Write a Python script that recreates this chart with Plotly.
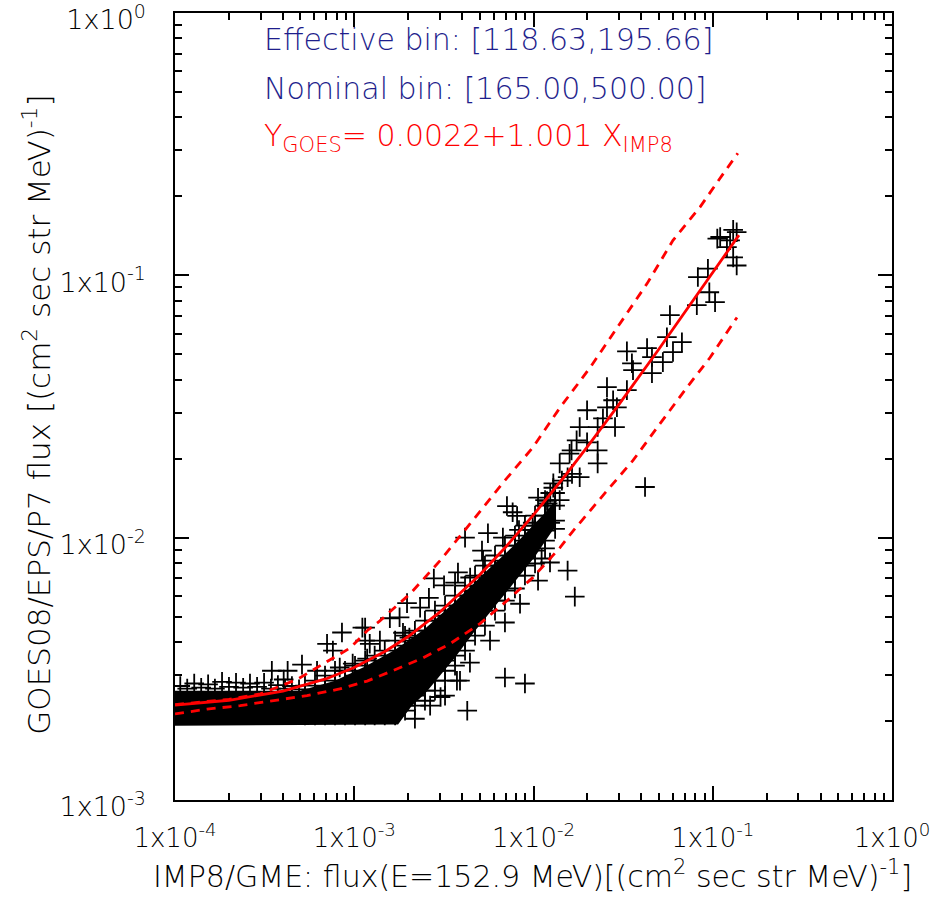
import plotly.graph_objects as go

# ---------------- data ----------------
# individual "+" points: IMP8 flux (x) and GOES flux (y)
imp8_flux = [
    # upper right cluster
    0.110, 0.130, 0.125, 0.136, 0.120, 0.130, 0.136, 0.106, 0.094, 0.0826, 0.0957, 0.103, 0.0815,
    0.0577, 0.0555, 0.0673, 0.060, 0.0527, 0.0458, 0.0430, 0.0354, 0.0332, 0.0359, 0.0458, 0.0332,
    0.0257, 0.0278, 0.0257, 0.0292, 0.0199, 0.0244, 0.0285, 0.0228, 0.0181, 0.0174, 0.0199, 0.0228,
    0.0163, 0.0140, 0.0159, 0.0164, 0.0181, 0.0155, 0.0228, 0.0419, 0.0129, 0.0124, 0.0120, 0.0106,
    0.0140, 0.00711, 0.0081, 0.0099, 0.0083, 0.0124,
    # middle, above the dense band
    0.00765, 0.00557, 0.00415, 0.00675, 0.00516, 0.00523, 0.00379, 0.00443, 0.00365, 0.00317,
    0.00278, 0.00261, 0.00233, 0.00197, 0.00179, 0.00158, 0.00115, 0.00139, 0.00187, 0.00203,
    0.00122, 0.0111, 0.0099, 0.0116, 0.0129, 0.0144, 0.0119,
    # outliers below
    0.00693, 0.00896, 0.00374, 0.00427, 0.00303, 0.0155, 0.0170,
    # ragged lower edge of the dense band
    2.18e-3, 2.65e-3, 3.21e-3, 3.89e-3, 4.42e-3, 5.72e-3, 6.93e-3, 8.41e-3, 1.06e-2, 1.236e-2,
    # above the low band
    8.54e-4, 1.11e-3, 1.15e-3, 7.05e-4, 7.6e-4, 5.11e-4, 3.47e-4, 4.25e-4, 4.04e-4, 9.8e-4,
    8.3e-4, 6.2e-4, 1.18e-3,
    # top of the low-flux band
    1.07e-4, 1.17e-4, 1.28e-4, 1.40e-4, 1.53e-4, 1.67e-4, 1.83e-4, 2.00e-4, 2.19e-4, 2.40e-4,
    2.62e-4, 2.87e-4, 3.14e-4, 3.43e-4, 3.75e-4, 4.11e-4, 4.49e-4, 4.92e-4,
    # the dense band, column by column
    5.31e-4, 5.31e-4, 5.31e-4, 5.31e-4,
    6.04e-4, 6.04e-4, 6.04e-4, 6.04e-4, 6.04e-4,
    6.87e-4, 6.87e-4, 6.87e-4, 6.87e-4, 6.87e-4,
    7.81e-4, 7.81e-4, 7.81e-4, 7.81e-4, 7.81e-4, 7.81e-4,
    8.88e-4, 8.88e-4, 8.88e-4, 8.88e-4, 8.88e-4,
    1.01e-3, 1.01e-3, 1.01e-3, 1.01e-3, 1.01e-3, 1.01e-3,
    1.15e-3, 1.15e-3, 1.15e-3, 1.15e-3, 1.15e-3, 1.15e-3, 1.15e-3,
    1.30e-3, 1.30e-3, 1.30e-3, 1.30e-3, 1.30e-3, 1.30e-3,
    1.48e-3, 1.48e-3, 1.48e-3, 1.48e-3, 1.48e-3, 1.48e-3, 1.48e-3,
    1.69e-3, 1.69e-3, 1.69e-3, 1.69e-3, 1.69e-3, 1.69e-3, 1.69e-3,
    1.92e-3, 1.92e-3, 1.92e-3, 1.92e-3, 1.92e-3, 1.92e-3, 1.92e-3, 1.92e-3,
    2.18e-3, 2.18e-3, 2.18e-3, 2.18e-3, 2.18e-3, 2.18e-3, 2.18e-3, 2.18e-3,
    2.48e-3, 2.48e-3, 2.48e-3, 2.48e-3, 2.48e-3, 2.48e-3, 2.48e-3, 2.48e-3,
    2.82e-3, 2.82e-3, 2.82e-3, 2.82e-3, 2.82e-3, 2.82e-3, 2.82e-3, 2.82e-3,
    3.21e-3, 3.21e-3, 3.21e-3, 3.21e-3, 3.21e-3, 3.21e-3, 3.21e-3, 3.21e-3,
    3.65e-3, 3.65e-3, 3.65e-3, 3.65e-3, 3.65e-3, 3.65e-3, 3.65e-3,
    4.15e-3, 4.15e-3, 4.15e-3, 4.15e-3, 4.15e-3, 4.15e-3, 4.15e-3,
    4.72e-3, 4.72e-3, 4.72e-3, 4.72e-3, 4.72e-3, 4.72e-3,
    5.36e-3, 5.36e-3, 5.36e-3, 5.36e-3, 5.36e-3, 5.36e-3,
    6.10e-3, 6.10e-3, 6.10e-3, 6.10e-3, 6.10e-3, 6.10e-3,
    6.93e-3, 6.93e-3, 6.93e-3, 6.93e-3, 6.93e-3, 6.93e-3,
    7.88e-3, 7.88e-3, 7.88e-3, 7.88e-3, 7.88e-3,
    8.96e-3, 8.96e-3, 8.96e-3, 8.96e-3, 8.96e-3,
    1.02e-2, 1.02e-2, 1.02e-2, 1.02e-2, 1.02e-2,
    1.16e-2, 1.16e-2, 1.16e-2, 1.16e-2, 1.16e-2,
    1.32e-2, 1.32e-2, 1.32e-2, 1.32e-2,
]
goes_flux = [
    0.140, 0.149, 0.136, 0.146, 0.128, 0.117, 0.109, 0.138, 0.106, 0.0985, 0.0862, 0.0790, 0.0770,
    0.0705, 0.0581, 0.0556, 0.051, 0.0467, 0.0488, 0.0528, 0.0462, 0.0513, 0.0435, 0.0424, 0.0365,
    0.0375, 0.0334, 0.0314, 0.0314, 0.0306, 0.0285, 0.0264, 0.0264, 0.0264, 0.0235, 0.0231, 0.0215,
    0.0215, 0.0192, 0.0209, 0.0175, 0.0170, 0.0170, 0.0192, 0.0156, 0.0161, 0.0148, 0.0135, 0.0142,
    0.0139, 0.0132, 0.0121, 0.0114, 0.0107, 0.0114,
    0.0125, 0.0104, 0.0100, 0.0100, 0.00893, 0.00818, 0.00737, 0.00705, 0.00674, 0.00658,
    0.00699, 0.00590, 0.00541, 0.00563, 0.00497, 0.00493, 0.00454, 0.00405, 0.00434, 0.00416,
    0.00394, 0.00833, 0.0107, 0.0139, 0.0155, 0.0165, 0.0138,
    0.00293, 0.00278, 0.00285, 0.00219, 0.00247, 0.00749, 0.00596,
    2.04e-3, 2.29e-3, 2.50e-3, 2.85e-3, 3.34e-3, 4.05e-3, 4.75e-3, 5.60e-3, 6.86e-3, 8.04e-3,
    0.00435, 0.00454, 0.00405, 0.00394, 0.00371, 0.00328, 0.00311, 0.00311, 0.00288, 0.00331,
    0.00320, 0.00311, 0.00346,
    2.72e-3, 2.66e-3, 2.78e-3, 2.68e-3, 2.76e-3, 2.66e-3, 2.82e-3, 2.70e-3, 2.80e-3, 2.68e-3,
    2.78e-3, 2.70e-3, 2.80e-3, 2.66e-3, 2.74e-3, 2.66e-3, 2.72e-3, 2.64e-3,
    2.73e-3, 2.50e-3, 2.29e-3, 2.10e-3,
    2.85e-3, 2.61e-3, 2.39e-3, 2.19e-3, 2.10e-3,
    2.98e-3, 2.73e-3, 2.50e-3, 2.29e-3, 2.10e-3,
    3.11e-3, 2.85e-3, 2.61e-3, 2.39e-3, 2.19e-3, 2.10e-3,
    3.11e-3, 2.85e-3, 2.50e-3, 2.29e-3, 2.10e-3,
    3.25e-3, 2.98e-3, 2.73e-3, 2.50e-3, 2.29e-3, 2.10e-3,
    3.40e-3, 3.11e-3, 2.85e-3, 2.61e-3, 2.39e-3, 2.19e-3, 2.10e-3,
    3.55e-3, 3.25e-3, 2.98e-3, 2.61e-3, 2.39e-3, 2.10e-3,
    3.71e-3, 3.40e-3, 3.11e-3, 2.73e-3, 2.50e-3, 2.29e-3, 2.10e-3,
    4.05e-3, 3.55e-3, 3.25e-3, 2.98e-3, 2.61e-3, 2.39e-3, 2.10e-3,
    4.23e-3, 3.88e-3, 3.40e-3, 3.11e-3, 2.85e-3, 2.50e-3, 2.29e-3, 2.19e-3,
    4.42e-3, 4.05e-3, 3.71e-3, 3.25e-3, 2.98e-3, 2.73e-3, 2.50e-3, 2.29e-3,
    4.83e-3, 4.42e-3, 3.88e-3, 3.55e-3, 3.25e-3, 2.85e-3, 2.61e-3, 2.39e-3,
    5.27e-3, 4.83e-3, 4.23e-3, 3.88e-3, 3.55e-3, 3.11e-3, 2.85e-3, 2.61e-3,
    5.51e-3, 5.04e-3, 4.62e-3, 4.05e-3, 3.71e-3, 3.40e-3, 3.11e-3, 2.85e-3,
    6.01e-3, 5.51e-3, 4.83e-3, 4.42e-3, 4.05e-3, 3.55e-3, 3.25e-3,
    6.57e-3, 6.01e-3, 5.51e-3, 5.04e-3, 4.42e-3, 4.05e-3, 3.71e-3,
    7.17e-3, 6.28e-3, 5.75e-3, 5.27e-3, 4.62e-3, 4.23e-3,
    7.83e-3, 7.17e-3, 6.57e-3, 5.75e-3, 5.27e-3, 4.62e-3,
    8.55e-3, 7.83e-3, 6.86e-3, 6.28e-3, 5.75e-3, 5.27e-3,
    9.33e-3, 8.18e-3, 7.49e-3, 6.86e-3, 6.28e-3, 5.75e-3,
    1.018e-2, 9.33e-3, 8.18e-3, 7.17e-3, 6.40e-3,
    1.111e-2, 9.75e-3, 8.93e-3, 7.83e-3, 7.17e-3,
    1.214e-2, 1.111e-2, 9.75e-3, 8.93e-3, 7.97e-3,
    1.325e-2, 1.214e-2, 1.063e-2, 9.75e-3, 9.10e-3,
    1.48e-2, 1.325e-2, 1.161e-2, 1.08e-2,
]

# outline of the part of the band where the crosses merge into solid black
dense_imp8 = [1.0e-4, 4.98e-4, 7.81e-4, 1.15e-3, 1.69e-3, 2.48e-3, 3.65e-3, 5.36e-3, 7.88e-3,
              1.16e-2, 1.32e-2,
              1.32e-2, 1.16e-2, 1.02e-2, 7.88e-3, 6.10e-3, 4.72e-3, 3.65e-3, 3.01e-3, 2.48e-3,
              2.10e-3, 1.92e-3, 1.756e-3, 1.0e-4]
dense_goes = [2.61e-3, 2.61e-3, 2.85e-3, 3.23e-3, 3.74e-3, 4.50e-3, 5.70e-3, 7.36e-3, 9.41e-3,
              1.245e-2, 1.384e-2,
              1.101e-2, 9.66e-3, 8.47e-3, 6.80e-3, 5.51e-3, 4.42e-3, 3.49e-3, 2.98e-3, 2.54e-3,
              2.29e-3, 2.10e-3, 1.94e-3, 1.92e-3]

# fitted line  Y = 0.0022 + 1.001 X  (tabulated)
fit_imp8 = [1.0e-4, 2.0e-4, 4.0e-4, 7.0e-4, 1.0e-3, 1.5e-3, 2.0e-3, 3.0e-3, 5.0e-3, 7.0e-3,
            1.0e-2, 1.5e-2, 2.0e-2, 3.0e-2, 5.0e-2, 7.0e-2, 1.0e-1, 1.4e-1]
fit_goes = [2.30e-3, 2.40e-3, 2.60e-3, 2.90e-3, 3.20e-3, 3.70e-3, 4.20e-3, 5.20e-3, 7.21e-3, 9.21e-3,
            1.221e-2, 1.722e-2, 2.222e-2, 3.223e-2, 5.225e-2, 7.227e-2, 1.023e-1, 1.423e-1]

# upper / lower dashed bounds
upper_imp8 = [1.0e-4, 2.0e-4, 3.0e-4, 4.8e-4, 7.1e-4, 9.5e-4, 1.18e-3, 1.39e-3, 2.05e-3, 3.01e-3,
              4.43e-3, 6.76e-3, 9.93e-3, 1.405e-2, 2.07e-2, 2.92e-2, 4.3e-2, 6.0e-2, 8.49e-2,
              1.096e-1, 1.38e-1]
upper_goes = [2.31e-3, 2.42e-3, 2.54e-3, 2.88e-3, 3.38e-3, 3.80e-3, 4.42e-3, 4.82e-3, 6.11e-3, 8.17e-3,
              1.13e-2, 1.62e-2, 2.21e-2, 3.13e-2, 4.45e-2, 6.33e-2, 9.3e-2, 1.36e-1, 1.82e-1,
              2.34e-1, 2.92e-1]
lower_imp8 = [1.0e-4, 1.51e-4, 2.31e-4, 3.52e-4, 5.45e-4, 8.3e-4, 1.18e-3, 1.64e-3, 2.42e-3, 3.42e-3,
              5.03e-3, 7.11e-3, 9.9e-3, 1.405e-2, 1.66e-2, 2.57e-2, 3.59e-2, 5.08e-2, 7.18e-2,
              9.66e-2, 1.365e-1]
lower_goes = [2.13e-3, 2.22e-3, 2.29e-3, 2.39e-3, 2.50e-3, 2.65e-3, 2.84e-3, 3.11e-3, 3.48e-3, 3.94e-3,
              4.70e-3, 5.75e-3, 7.04e-3, 9.16e-3, 1.06e-2, 1.51e-2, 1.97e-2, 2.72e-2, 3.74e-2,
              4.86e-2, 6.91e-2]

x_tickvals = [1e-4, 1e-3, 1e-2, 1e-1, 1e0]
x_ticktext = ["1x10<sup>-4</sup>", "1x10<sup>-3</sup>", "1x10<sup>-2</sup>", "1x10<sup>-1</sup>", "1x10<sup>0</sup>"]
y_tickvals = [1e-3, 1e-2, 1e-1, 1e0]
y_ticktext = ["1x10<sup>-3</sup>", "1x10<sup>-2</sup>", "1x10<sup>-1</sup>", "1x10<sup>0</sup>"]
x_minor = [m * 10.0 ** e for e in (-4, -3, -2, -1) for m in range(2, 10)]
y_minor = [m * 10.0 ** e for e in (-3, -2, -1) for m in range(2, 10)]

FONT = "DejaVu Sans"
WEIGHT = 200
RED = "#ff0000"
BLUE = "#1e1e8c"

fig = go.Figure()
fig.add_trace(go.Scatter(x=dense_imp8, y=dense_goes, mode="lines", fill="toself",
                         fillcolor="black", line=dict(width=0, color="black"),
                         hoverinfo="skip"))
fig.add_trace(go.Scatter(x=imp8_flux, y=goes_flux, mode="markers",
                         marker=dict(symbol="cross-thin", size=14,
                                     line=dict(width=1.8, color="black"), color="black")))
fig.add_trace(go.Scatter(x=fit_imp8, y=fit_goes, mode="lines",
                         line=dict(color=RED, width=2.8)))
fig.add_trace(go.Scatter(x=upper_imp8, y=upper_goes, mode="lines",
                         line=dict(color=RED, width=2.8, dash="9px,7px")))
fig.add_trace(go.Scatter(x=lower_imp8, y=lower_goes, mode="lines",
                         line=dict(color=RED, width=2.8, dash="9px,7px")))

axis_common = dict(type="log", ticks="inside", ticklen=14, tickwidth=1.5, tickcolor="black",
                   showline=True, linewidth=1.5, linecolor="black", mirror="allticks",
                   showgrid=False, zeroline=False, ticklabeloverflow="allow", automargin=False)
fig.update_xaxes(range=[-4, 0], tickmode="array", tickvals=x_tickvals, ticktext=x_ticktext,
                 ticklabelstandoff=14,
                 tickfont=dict(family=FONT, size=26, color="black", weight=WEIGHT),
                 minor=dict(tickmode="array", tickvals=x_minor, ticks="inside", ticklen=7,
                            tickwidth=1.5, tickcolor="black", showgrid=False),
                 **axis_common)
fig.update_yaxes(range=[-3, 0], tickmode="array", tickvals=y_tickvals, ticktext=y_ticktext,
                 ticklabelstandoff=22, ticklabelshift=7,
                 tickfont=dict(family=FONT, size=27, color="black", weight=WEIGHT),
                 minor=dict(tickmode="array", tickvals=y_minor, ticks="inside", ticklen=7,
                            tickwidth=1.5, tickcolor="black", showgrid=False),
                 **axis_common)

ann = [
    dict(text="Effective bin: [118.63,195.66]", x=0.1213, y=0.9657, font=dict(color=BLUE, size=30)),
    dict(text="Nominal bin: [165.00,500.00]", x=0.1213, y=0.9047, font=dict(color=BLUE, size=30)),
    dict(text="Y<sub>GOES</sub>= 0.0022+1.001 X<sub>IMP8</sub>", x=0.1213, y=0.842,
         font=dict(color=RED, size=30)),
]
for a in ann:
    a["font"]["family"] = FONT
    a["font"]["weight"] = WEIGHT
    fig.add_annotation(xref="paper", yref="paper", xanchor="left", yanchor="middle",
                       showarrow=False, **a)

fig.add_annotation(text="GOES08/EPS/P7 flux [(cm<sup>2</sup> sec str MeV)<sup>-1</sup>]",
                   xref="paper", yref="paper", x=-0.192, y=0.49, textangle=-90,
                   xanchor="center", yanchor="middle", showarrow=False,
                   font=dict(family=FONT, size=31, color="black", weight=WEIGHT))
fig.add_annotation(text="IMP8/GME: flux(E=152.9 MeV)[(cm<sup>2</sup> sec str MeV)<sup>-1</sup>]",
                   xref="paper", yref="paper", x=0.498, y=-0.0945,
                   xanchor="center", yanchor="middle", showarrow=False,
                   font=dict(family=FONT, size=30, color="black", weight=WEIGHT))

fig.update_layout(width=934, height=897, margin=dict(l=175, r=42, t=13, b=97),
                  plot_bgcolor="white", paper_bgcolor="white", showlegend=False)

fig.write_html("out.html")
